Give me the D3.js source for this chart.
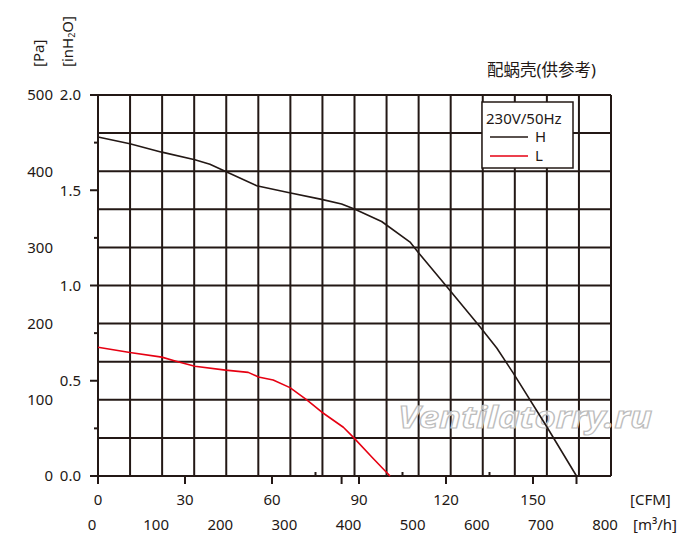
<!DOCTYPE html>
<html>
<head>
<meta charset="utf-8">
<script src="https://cdn.jsdelivr.net/npm/d3@7"></script>
<style>
  body{margin:0;background:#fff;}
  text{font-family:"Noto Sans","Noto Sans CJK SC",sans-serif;fill:#231815;}
</style>
</head>
<body>
<div id="chart"></div>
<script>
// ---- data (CFM vs Pa)
const curveH = [
  [0,445],[11,436],[22,425],[33.4,415],[38.6,409],[44.4,399],[54.7,381],[65.6,372],
  [77.1,363],[84,357],[88.6,350],[97.8,334],[107.6,307],[110.3,294],[120.8,246],
  [131.7,196],[137.5,168],[143.2,135],[154.7,65],[165,0]
];
const curveL = [
  [0,169],[11,162],[22,156],[26.6,151],[33.4,144],[44,139],[51.8,136],[55.3,130],
  [60.4,126],[66.2,116],[72,100],[77.1,84],[84.6,64],[88,51],[94.4,25],[100.7,0]
];
const cfmTicks = [0,30,60,90,120,150];
const cfmTicksBelow = [84,165];
const cfmTicksAbove = [75,105,135];
const m3hTicks = [0,100,200,300,400,500,600,700,800];
const paTicks = [0,100,200,300,400,500];
const inTicks = [0,0.5,1.0,1.5,2.0];
const inMinorTicks = [0.25,0.75,1.25,1.75];
const legendItems = [{name:'H',color:'#231815',data:curveH},{name:'L',color:'#e60012',data:curveL}];

const W=700, H=545;
const ink='#231815';
const svg=d3.select('#chart').append('svg').attr('width',W).attr('height',H);

// scales
const x = d3.scaleLinear().domain([0,150]).range([98,533]);        // CFM
const xm = d3.scaleLinear().domain([0,800]).range([98,611]);       // m3/h (grid)
const yPa = d3.scaleLinear().domain([0,500]).range([476,95]);
const yIn = d3.scaleLinear().domain([0,2]).range([476,95]);

// grid
const grid = svg.append('g').attr('stroke',ink).attr('stroke-width',2);
grid.selectAll('line.v').data(d3.range(0,801,50)).join('line')
  .attr('x1',d=>xm(d)).attr('x2',d=>xm(d)).attr('y1',yIn(0)).attr('y2',yIn(2));
grid.selectAll('line.h').data(d3.range(0,2.01,0.2)).join('line')
  .attr('x1',xm(0)).attr('x2',xm(800)).attr('y1',d=>yIn(d)).attr('y2',d=>yIn(d));

// left axis ticks
const ax = svg.append('g').attr('stroke',ink).attr('stroke-width',2);
ax.selectAll('line.maj').data(inTicks).join('line')
  .attr('x1',90).attr('x2',98).attr('y1',d=>yIn(d)).attr('y2',d=>yIn(d));
ax.selectAll('line.min').data(inMinorTicks).join('line').attr('class','min')
  .attr('x1',94).attr('x2',98).attr('y1',d=>yIn(d)).attr('y2',d=>yIn(d));
// bottom axis ticks
ax.selectAll('line.b').data(cfmTicks.concat(cfmTicksBelow)).join('line').attr('class','b')
  .attr('x1',d=>x(d)).attr('x2',d=>x(d)).attr('y1',476).attr('y2',484);
ax.selectAll('line.a').data(cfmTicksAbove).join('line').attr('class','a')
  .attr('x1',d=>x(d)).attr('x2',d=>x(d)).attr('y1',472).attr('y2',476);

// tick labels
const fs=15;
svg.append('g').selectAll('text').data(paTicks).join('text')
  .attr('x',53).attr('y',d=>yPa(d)).attr('dy','0.36em').attr('text-anchor','end')
  .attr('font-size',fs).text(d=>d);
svg.append('g').selectAll('text').data(inTicks).join('text')
  .attr('x',81).attr('y',d=>yIn(d)).attr('dy','0.36em').attr('text-anchor','end')
  .attr('font-size',fs).text(d=>d.toFixed(1));
svg.append('g').selectAll('text').data(cfmTicks).join('text')
  .attr('x',d=>x(d)).attr('y',505).attr('text-anchor','middle')
  .attr('font-size',fs).text(d=>d);
svg.append('g').selectAll('text').data(m3hTicks).join('text')
  .attr('x',d=>xm(d)-6).attr('y',530).attr('text-anchor','middle')
  .attr('font-size',fs).text(d=>d);

// unit labels
svg.append('text').attr('x',630).attr('y',505).attr('font-size',fs).text('[CFM]');
svg.append('text').attr('x',633).attr('y',530).attr('font-size',fs).text('[m³/h]');
svg.append('text').attr('transform','translate(44,67) rotate(-90)').attr('font-size',fs).text('[Pa]');
const inl = svg.append('text').attr('transform','translate(73,67) rotate(-90)').attr('font-size',fs);
inl.append('tspan').text('[inH');
inl.append('tspan').attr('font-size',9).attr('dy',2).text('2');
inl.append('tspan').attr('dy',-2).text('O]');

// title
svg.append('text').attr('x',487).attr('y',76).attr('font-size',16.5)
  .attr('font-family','"Noto Sans CJK SC",sans-serif').text('配蜗壳(供参考)');

// watermark
svg.append('text').attr('x',398).attr('y',428)
  .attr('font-family','"Liberation Sans",sans-serif').attr('font-weight','bold').attr('font-style','italic')
  .attr('font-size',31).attr('textLength',254).attr('lengthAdjust','spacingAndGlyphs')
  .style('fill','#fff').attr('fill-opacity',0.7).attr('stroke','#bdbdbd').attr('stroke-width',1.2)
  .text('Ventilatorry.ru');

// curves
const line = d3.line().x(d=>x(d[0])).y(d=>yPa(d[1]));
svg.append('g').selectAll('path').data(legendItems).join('path')
  .attr('d',d=>line(d.data)).attr('fill','none')
  .attr('stroke',d=>d.color).attr('stroke-width',1.6).attr('stroke-linejoin','round');

// legend
const lg = svg.append('g');
lg.append('rect').attr('x',482).attr('y',102).attr('width',91).attr('height',66)
  .attr('fill','#fff').attr('stroke',ink).attr('stroke-width',1.5);
lg.append('text').attr('x',486).attr('y',124).attr('font-size',fs).text('230V/50Hz');
const li = lg.selectAll('g.it').data(legendItems).join('g').attr('class','it')
  .attr('transform',(d,i)=>`translate(0,${137+i*19})`);
li.append('line').attr('x1',490).attr('x2',528).attr('y1',0).attr('y2',0)
  .attr('stroke',d=>d.color).attr('stroke-width',1.5);
li.append('text').attr('x',535).attr('dy','0.36em').attr('font-size',fs).text(d=>d.name);
</script>
</body>
</html>
